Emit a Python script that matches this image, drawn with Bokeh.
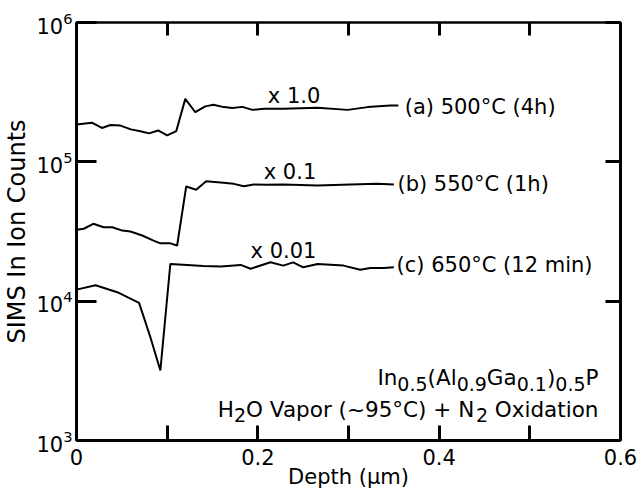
from bokeh.plotting import figure
from bokeh.models import (Range1d, LogAxis, LinearAxis, FixedTicker, CustomJSTickFormatter,
                          LogTickFormatter, ColumnDataSource)
from bokeh.core.properties import value, field
from bokeh.embed import file_html
from bokeh.resources import INLINE

# ---------------- data ----------------
depth_a = [0.0, 0.017, 0.028, 0.0375, 0.0485, 0.060, 0.0705, 0.080, 0.090, 0.100, 0.110,
           0.120, 0.131, 0.142, 0.151, 0.1625, 0.172, 0.183, 0.194, 0.207, 0.228, 0.266,
           0.299, 0.321, 0.346, 0.355]
sims_a = [1.85e5, 1.91e5, 1.75e5, 1.84e5, 1.82e5, 1.71e5, 1.66e5, 1.60e5, 1.68e5, 1.55e5, 1.66e5,
          2.83e5, 2.27e5, 2.50e5, 2.57e5, 2.47e5, 2.43e5, 2.48e5, 2.36e5, 2.40e5, 2.40e5, 2.44e5,
          2.36e5, 2.47e5, 2.54e5, 2.54e5]

depth_b = [0.0, 0.008, 0.0185, 0.030, 0.0395, 0.0505, 0.0595, 0.0725, 0.085, 0.0925, 0.1035,
           0.111, 0.121, 0.132, 0.143, 0.159, 0.1735, 0.1845, 0.1955, 0.210, 0.228, 0.266,
           0.302, 0.332, 0.350]
sims_b = [3.25e4, 3.31e4, 3.59e4, 3.39e4, 3.39e4, 3.21e4, 3.16e4, 2.96e4, 2.72e4, 2.60e4, 2.60e4,
          2.51e4, 6.65e4, 6.30e4, 7.26e4, 7.11e4, 6.95e4, 6.68e4, 6.88e4, 6.84e4, 6.88e4, 6.76e4,
          6.88e4, 6.95e4, 6.88e4]

depth_c = [0.0, 0.021, 0.045, 0.069, 0.0815, 0.0925, 0.1035, 0.122, 0.140, 0.159, 0.181,
           0.192, 0.214, 0.228, 0.239, 0.250, 0.266, 0.2945, 0.313, 0.324, 0.339, 0.350]
sims_c = [1.21e4, 1.30e4, 1.16e4, 9.73e3, 5.51e3, 3.18e3, 1.85e4, 1.82e4, 1.79e4, 1.77e4, 1.82e4,
          1.71e4, 1.90e4, 1.80e4, 1.90e4, 1.75e4, 1.85e4, 1.80e4, 1.68e4, 1.73e4, 1.73e4, 1.75e4]

curve_labels = ["(a) 500°C (4h)", "(b) 550°C (1h)", "(c) 650°C (12 min)"]
scale_labels = ["x 1.0", "x 0.1", "x 0.01"]
x_ticks = [0.0, 0.1, 0.2, 0.3, 0.4, 0.5, 0.6]
y_ticks = [1e3, 1e4, 1e5, 1e6]
x_title = "Depth (μm)"
y_title = "SIMS In Ion Counts"
# composite texts: (piece, is_subscript)
line1 = [("In", 0), ("0.5", 1), ("(Al", 0), ("0.9", 1), ("Ga", 0), ("0.1", 1), (")", 0), ("0.5", 1), ("P", 0)]
line2 = [("H", 0), ("2", 1), ("O Vapor (~95°C) + N", 0), ("2", 1), (" Oxidation", 0)]

# ---------------- layout / style ----------------
FONT = "DejaVu Sans"
FS = 21
MAIN = 21.5
SUB = 19

p = figure(width=638, height=496, x_range=Range1d(0, 0.6), y_range=Range1d(1e3, 1e6),
           y_axis_type="log", output_backend="svg", toolbar_location=None,
           min_border_left=76, min_border_right=18, min_border_top=22, min_border_bottom=56)
p.xgrid.visible = False
p.ygrid.visible = False
p.outline_line_color = "black"
p.outline_line_width = 2
p.background_fill_color = "white"
p.border_fill_color = "white"


def style(ax, tick_in, lw=3):
    ax.major_tick_in = tick_in
    ax.major_tick_out = 0
    ax.minor_tick_in = 0
    ax.minor_tick_out = 0
    ax.axis_line_width = lw
    ax.axis_line_color = "black"
    ax.major_tick_line_width = 3
    ax.major_tick_line_color = "black"
    ax.major_label_text_font = FONT
    ax.major_label_text_font_size = f"{FS}px"
    ax.major_label_text_color = "black"
    ax.axis_label_text_font = FONT
    ax.axis_label_text_font_size = f"{FS}px"
    ax.axis_label_text_font_style = "normal"
    ax.axis_label_text_color = "black"


xfmt = CustomJSTickFormatter(code="""
const k = Math.round(tick*10);
if (k % 2 != 0) return "";
if (k == 0) return "0";
return (k/10).toFixed(1);
""")
blank = CustomJSTickFormatter(code="return '';")

xa = p.xaxis[0]
xa.ticker = FixedTicker(ticks=x_ticks, minor_ticks=[])
xa.formatter = xfmt
style(xa, 15)
xa.major_label_standoff = 8
xa.axis_label = x_title
xa.axis_label_standoff = -3

ya = p.yaxis[0]
ya.ticker = FixedTicker(ticks=y_ticks, minor_ticks=[])
ya.formatter = LogTickFormatter()
style(ya, 20)
ya.major_label_standoff = 4
ya.axis_label = y_title
ya.axis_label_text_font_size = "24px"
ya.axis_label_standoff = 2

ra = LogAxis(ticker=FixedTicker(ticks=y_ticks, minor_ticks=[]), formatter=blank)
style(ra, 15)
ra.major_label_standoff = 0
ra.major_label_text_font_size = "1px"
p.add_layout(ra, "right")

ta = LinearAxis(ticker=FixedTicker(ticks=x_ticks, minor_ticks=[]), formatter=blank)
style(ta, 13, lw=2)
ta.major_label_standoff = 0
ta.major_label_text_font_size = "1px"
p.add_layout(ta, "above")

# curves
for d, s in [(depth_a, sims_a), (depth_b, sims_b), (depth_c, sims_c)]:
    p.line(d, s, line_color="black", line_width=2)

# curve labels (anchor positions are layout)
lab_x = [0.362, 0.354, 0.353]
lab_y = [10 ** 5.39, 10 ** 4.844, 10 ** 4.256]
p.text(x=lab_x, y=lab_y, text=curve_labels, text_font=value(FONT), text_font_size=f"{FS}px",
       text_baseline="middle", text_align="left", text_color="black")

sc_x = [0.240, 0.2355, 0.2283]
sc_y = [10 ** 5.47, 10 ** 4.93, 10 ** 4.36]
p.text(x=sc_x, y=sc_y, text=scale_labels, text_font=value(FONT), text_font_size=f"{FS}px",
       text_baseline="middle", text_align="center", text_color="black")

# composite sub-scripted text, right aligned
W = {' ': 0.318, '(': 0.390, ')': 0.390, '.': 0.318, 'A': 0.684, 'C': 0.698, 'G': 0.775,
     'H': 0.752, 'I': 0.295, 'N': 0.748, 'O': 0.787, 'P': 0.603, 'V': 0.684, 'a': 0.613,
     'd': 0.635, 'i': 0.278, 'l': 0.278, 'n': 0.634, 'o': 0.612, 'p': 0.635, 'r': 0.411,
     't': 0.392, 'x': 0.592, '~': 0.838, '°': 0.5, '+': 0.838}
for dgt in "0123456789":
    W[dgt] = 0.636


def tw(t, sz):
    return sum(W.get(c, 0.6) for c in t) * sz


def build(pieces, xr, yb):
    sizes = [SUB if sub else MAIN for _, sub in pieces]
    widths = [tw(t, sz) for (t, _), sz in zip(pieces, sizes)]
    cur = -sum(widths)
    xs, ys, ts, xo, yo, fs = [], [], [], [], [], []
    for (t, sub), sz, w in zip(pieces, sizes, widths):
        lead = len(t) - len(t.lstrip(" "))
        xs.append(xr); ys.append(yb); ts.append(t.strip(" "))
        xo.append(cur + tw(" " * lead, sz)); yo.append(6 if sub else 0); fs.append(f"{sz}px")
        cur += w
    return dict(x=xs, y=ys, text=ts, xo=xo, yo=yo, fs=fs)


d1 = build(line1, 0.5757, 10 ** 3.45)
d2 = build(line2, 0.5757, 10 ** 3.225)
src = ColumnDataSource({k: d1[k] + d2[k] for k in d1})
p.text(x="x", y="y", text="text", x_offset="xo", y_offset="yo", text_font_size=field("fs"),
       text_font=value(FONT), text_baseline="alphabetic", text_align="left",
       text_color="black", source=src)

open("out.html", "w").write(file_html(p, INLINE))
